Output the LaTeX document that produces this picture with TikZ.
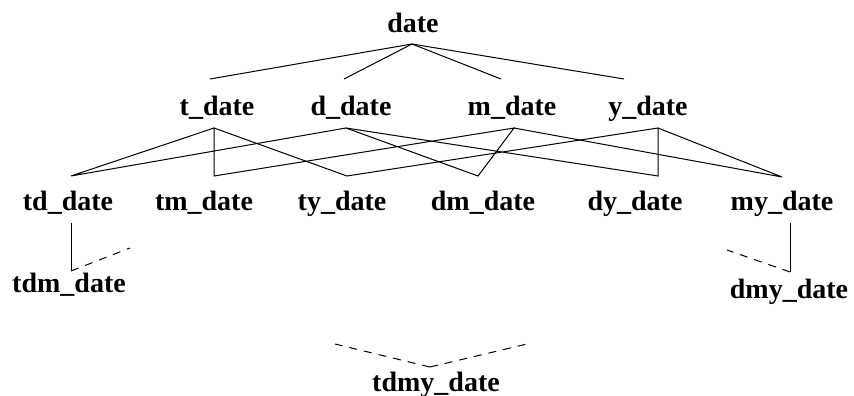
\documentclass[tikz,border=0pt]{standalone}
\usepackage{fontspec}
\setmainfont{Liberation Serif}
\begin{document}
\begin{tikzpicture}[x=1pt,y=-1pt,
  lbl/.style={font=\bfseries\fontsize{28}{31}\selectfont, anchor=base, inner sep=0pt},
  link/.style={line width=1pt, line join=miter},
  dlink/.style={line width=1pt, dash pattern=on 8pt off 7pt}]
\useasboundingbox (0,0) rectangle (854,396);

% labels
\node[lbl] (date) at (413,33) {date};
\node[lbl] (t) at (217,115) {t\_date};
\node[lbl] (d) at (351,115) {d\_date};
\node[lbl] (m) at (512,115) {m\_date};
\node[lbl] (y) at (648,115) {y\_date};
\node[lbl] (td) at (68,210) {td\_date};
\node[lbl] (tm) at (204,210) {tm\_date};
\node[lbl] (ty) at (342,210) {ty\_date};
\node[lbl] (dm) at (483,210) {dm\_date};
\node[lbl] (dy) at (635,210) {dy\_date};
\node[lbl] (my) at (782,210) {my\_date};
\node[lbl] (tdm) at (69,292) {tdm\_date};
\node[lbl] (dmy) at (789,298) {dmy\_date};
\node[lbl] (tdmy) at (436,391) {tdmy\_date};

% attachment points of the lattice lines
\coordinate (date-b) at (412,44);
\coordinate (t-t) at (210,79);
\coordinate (d-t) at (344,79);
\coordinate (m-t) at (501,79);
\coordinate (y-t) at (624,79);
\coordinate (t-b) at (214,128);
\coordinate (d-b) at (346,128);
\coordinate (m-b) at (514,128);
\coordinate (y-b) at (658,128);
\coordinate (td-t) at (71,176);
\coordinate (tm-t) at (214,176);
\coordinate (ty-t) at (347,176);
\coordinate (dm-t) at (478,176);
\coordinate (dy-t) at (658,176);
\coordinate (my-t) at (782,177);
\coordinate (td-b) at (71,223);
\coordinate (tdm-t) at (71,271);
\coordinate (tdm-r) at (130,248);
\coordinate (my-b) at (790,223);
\coordinate (dmy-t) at (790,272);
\coordinate (dmy-l) at (727,250);
\coordinate (tdmy-t) at (430,367);
\coordinate (tdmy-l) at (335,344);
\coordinate (tdmy-r) at (527,344);

% top level
\draw[link] (t-t) -- (date-b) -- (y-t);
\draw[link] (d-t) -- (date-b) -- (m-t);

% second to third level
\draw[link] (td-t) -- (t-b) -- (tm-t) -- (m-b) -- (dm-t) -- (d-b) -- (td-t);
\draw[link] (t-b) -- (ty-t) -- (y-b) -- (dy-t) -- (d-b);
\draw[link] (m-b) -- (my-t) -- (y-b);

% lower levels
\draw[link] (td-b) -- (tdm-t);
\draw[dlink] (tdm-t) -- (tdm-r);
\draw[link] (my-b) -- (dmy-t);
\draw[dlink] (dmy-t) -- (dmy-l);
\draw[dlink] (tdmy-t) -- (tdmy-l);
\draw[dlink] (tdmy-t) -- (tdmy-r);
\end{tikzpicture}
\end{document}
